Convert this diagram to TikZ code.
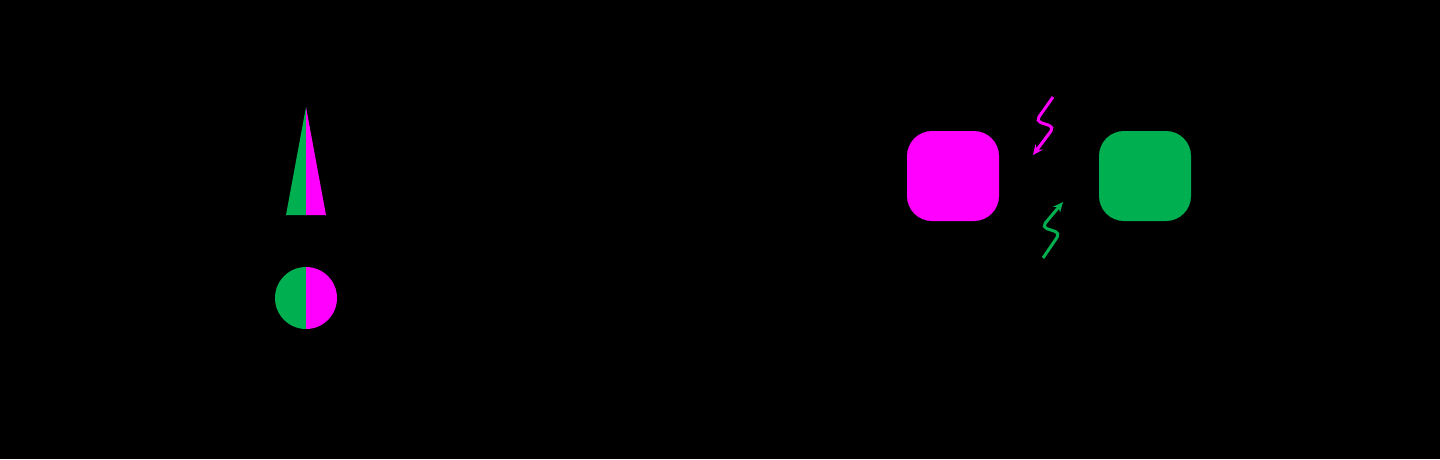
\documentclass[tikz,border=0pt]{standalone}
\usetikzlibrary{arrows.meta}
\definecolor{mag}{HTML}{FF00FF}
\definecolor{grn}{HTML}{00B050}
\begin{document}
\begin{tikzpicture}[x=1pt,y=-1pt,
  sq/.style={minimum width=92pt,minimum height=90pt,rounded corners=25pt,inner sep=0pt},
  zig/.style={line width=3pt,-{Stealth[length=10pt,width=9pt]},rounded corners=5pt}]
\fill[black] (0,0) rectangle (1440,459);
\useasboundingbox (0,0) rectangle (1440,459);
% triangle
\fill[grn] (306,107) -- (306,215) -- (286,215) -- cycle;
\fill[mag] (306,107) -- (306,215) -- (326,215) -- cycle;
% circle
\begin{scope}
\clip (270,260) rectangle (306,340);
\fill[grn] (306,298) circle[radius=31];
\end{scope}
\begin{scope}
\clip (306,260) rectangle (342,340);
\fill[mag] (306,298) circle[radius=31];
\end{scope}
% squares
\node[sq,fill=mag] (a) at (953,176) {};
\node[sq,fill=grn] (b) at (1145,176) {};
% zigzag arrows
\coordinate (m1) at (1053,97);
\coordinate (m2) at (1033,155);
\coordinate (g1) at (1043,258);
\coordinate (g2) at (1063,202);
\draw[zig,mag] (m1) -- (1036,121) -- (1054,127) -- (m2);
\draw[zig,grn] (g1) -- (1060,233) -- (1042,227) -- (g2);
\end{tikzpicture}
\end{document}
